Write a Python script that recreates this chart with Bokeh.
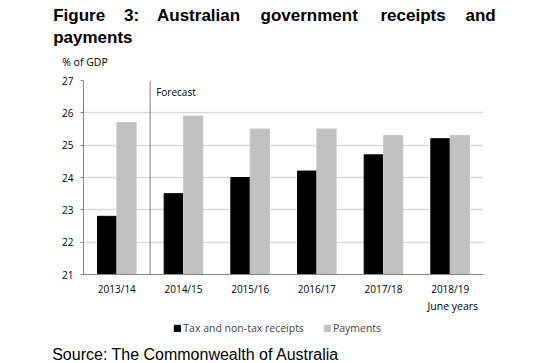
from bokeh.plotting import figure
from bokeh.layouts import column
from bokeh.models import (ColumnDataSource, FactorRange, Range1d, FixedTicker, Span,
                          Label, Legend, LegendItem, Plot)
from bokeh.core.properties import value
from bokeh.transform import dodge
from bokeh.embed import file_html
from bokeh.resources import INLINE

years = ["2013/14", "2014/15", "2015/16", "2016/17", "2017/18", "2018/19"]
receipts = [22.8, 23.5, 24.0, 24.2, 24.7, 25.2]
payments = [25.7, 25.9, 25.5, 25.5, 25.3, 25.3]
y_ticks = [21, 22, 23, 24, 25, 26, 27]
series_names = ["Tax and non-tax receipts", "Payments"]
title_line1 = ["Figure", "3:", "Australian", "government", "receipts", "and"]
title_line2 = "payments"
unit_label = "% of GDP"
forecast_label = "Forecast"
x_note = "June years"
source_note = "Source: The Commonwealth of Australia"
forecast_start = 1  # boundary after the first (actual) year

W = 550
LBL_FONT = "Open Sans"
TITLE_FONT = "Liberation Sans"
BLACK = "#000000"
GREY = "#c0c0c0"
HAS_FRAME_ALIGN = "frame_align" in Plot.properties()
NAN = float("nan")


def no_align(f):
    if HAS_FRAME_ALIGN:
        f.frame_align = False
    return f


def blank(h):
    f = figure(width=W, height=h, x_range=Range1d(0, W), y_range=Range1d(h, 0),
               x_axis_type=None, y_axis_type=None, min_border=0,
               min_border_left=0, min_border_right=0, min_border_top=0, min_border_bottom=0,
               output_backend="svg", toolbar_location=None)
    f.outline_line_color = None
    return no_align(f)


# ---------- header ----------
HH = 70
head = blank(HH)
head.text(x=[52.7, 123.5, 156.5, 260, 380, 465], y=[15] * 6, text=title_line1,
          text_font=value(TITLE_FONT), text_font_style="bold", text_font_size="17px",
          text_color=BLACK, text_baseline="middle", text_align="left")
head.text(x=[52.7], y=[36.5], text=[title_line2],
          text_font=value(TITLE_FONT), text_font_style="bold", text_font_size="17px",
          text_color=BLACK, text_baseline="middle", text_align="left")
head.text(x=[61.7], y=[61], text=[unit_label], text_font=value(LBL_FONT),
          text_font_size="10.5px", text_color=BLACK, text_baseline="middle", text_align="left")

# ---------- main chart ----------
src = ColumnDataSource(dict(year=years, receipts=receipts, payments=payments))
p = figure(x_range=FactorRange(*years), y_range=Range1d(21, 27),
           frame_width=400, frame_height=194,
           min_border_left=83, min_border_right=67, min_border_top=10, min_border_bottom=23,
           output_backend="svg", toolbar_location=None)
p.outline_line_color = None
no_align(p)

bw = 0.29
r1 = p.vbar(x=dodge("year", -bw / 2, range=p.x_range), top="receipts", bottom=21, width=bw,
            source=src, fill_color=BLACK, line_color=BLACK)
r2 = p.vbar(x=dodge("year", bw / 2, range=p.x_range), top="payments", bottom=21, width=bw,
            source=src, fill_color=GREY, line_color="#c8c8c8")

p.xgrid.grid_line_color = None
p.ygrid.grid_line_color = "#d9d9d9"
p.ygrid.grid_line_width = 1.3

p.yaxis.ticker = FixedTicker(ticks=y_ticks)
p.yaxis.major_tick_in = 0
p.yaxis.major_tick_out = 3
p.yaxis.minor_tick_line_color = None
p.yaxis.axis_line_color = "#868686"
p.yaxis.major_tick_line_color = "#868686"
p.yaxis.major_label_standoff = 7
p.yaxis.major_label_text_font = LBL_FONT
p.yaxis.major_label_text_font_size = "10px"
p.yaxis.major_label_text_color = BLACK

p.xaxis.major_tick_in = 0
p.xaxis.major_tick_out = 0
p.xaxis.axis_line_color = "#868686"
p.xaxis.major_label_standoff = 7
p.xaxis.major_label_text_font = LBL_FONT
p.xaxis.major_label_text_font_size = "10px"
p.xaxis.major_label_text_color = BLACK

p.add_layout(Span(location=forecast_start, dimension="height", line_color="#7f7f7f", line_width=1))
p.add_layout(Label(x=forecast_start, y=27, x_offset=6, y_offset=-11.5, text=forecast_label,
                   text_font=LBL_FONT, text_font_size="10px", text_color=BLACK,
                   text_baseline="middle", text_align="left"))

# ---------- footer ----------
FH = 66
foot = blank(FH)
foot.text(x=[427], y=[7], text=[x_note], text_font=value(LBL_FONT), text_font_size="10.5px",
          text_color=BLACK, text_baseline="middle", text_align="left")
foot.text(x=[51.7], y=[55.5], text=[source_note], text_font=value(TITLE_FONT),
          text_font_size="16px", text_color=BLACK, text_baseline="middle", text_align="left")
# legend swatches: proxy renderers styled like the two bar series, with no drawable data
k1 = foot.vbar(x=[NAN], top=[NAN], bottom=[NAN], width=1, fill_color=BLACK, line_color=BLACK)
k2 = foot.vbar(x=[NAN], top=[NAN], bottom=[NAN], width=1, fill_color=GREY, line_color=GREY)
legend = Legend(items=[LegendItem(label=series_names[0], renderers=[k1]),
                       LegendItem(label=series_names[1], renderers=[k2])],
                location=(173.3, 29), orientation="horizontal",
                glyph_width=8, glyph_height=8, label_standoff=2, spacing=19,
                padding=0, margin=0, border_line_color=None, background_fill_alpha=0,
                label_text_font=LBL_FONT, label_text_font_size="10.5px", label_height=10)
foot.add_layout(legend)

layout = column(head, p, foot, spacing=0)
open("out.html", "w").write(file_html(layout, INLINE))
